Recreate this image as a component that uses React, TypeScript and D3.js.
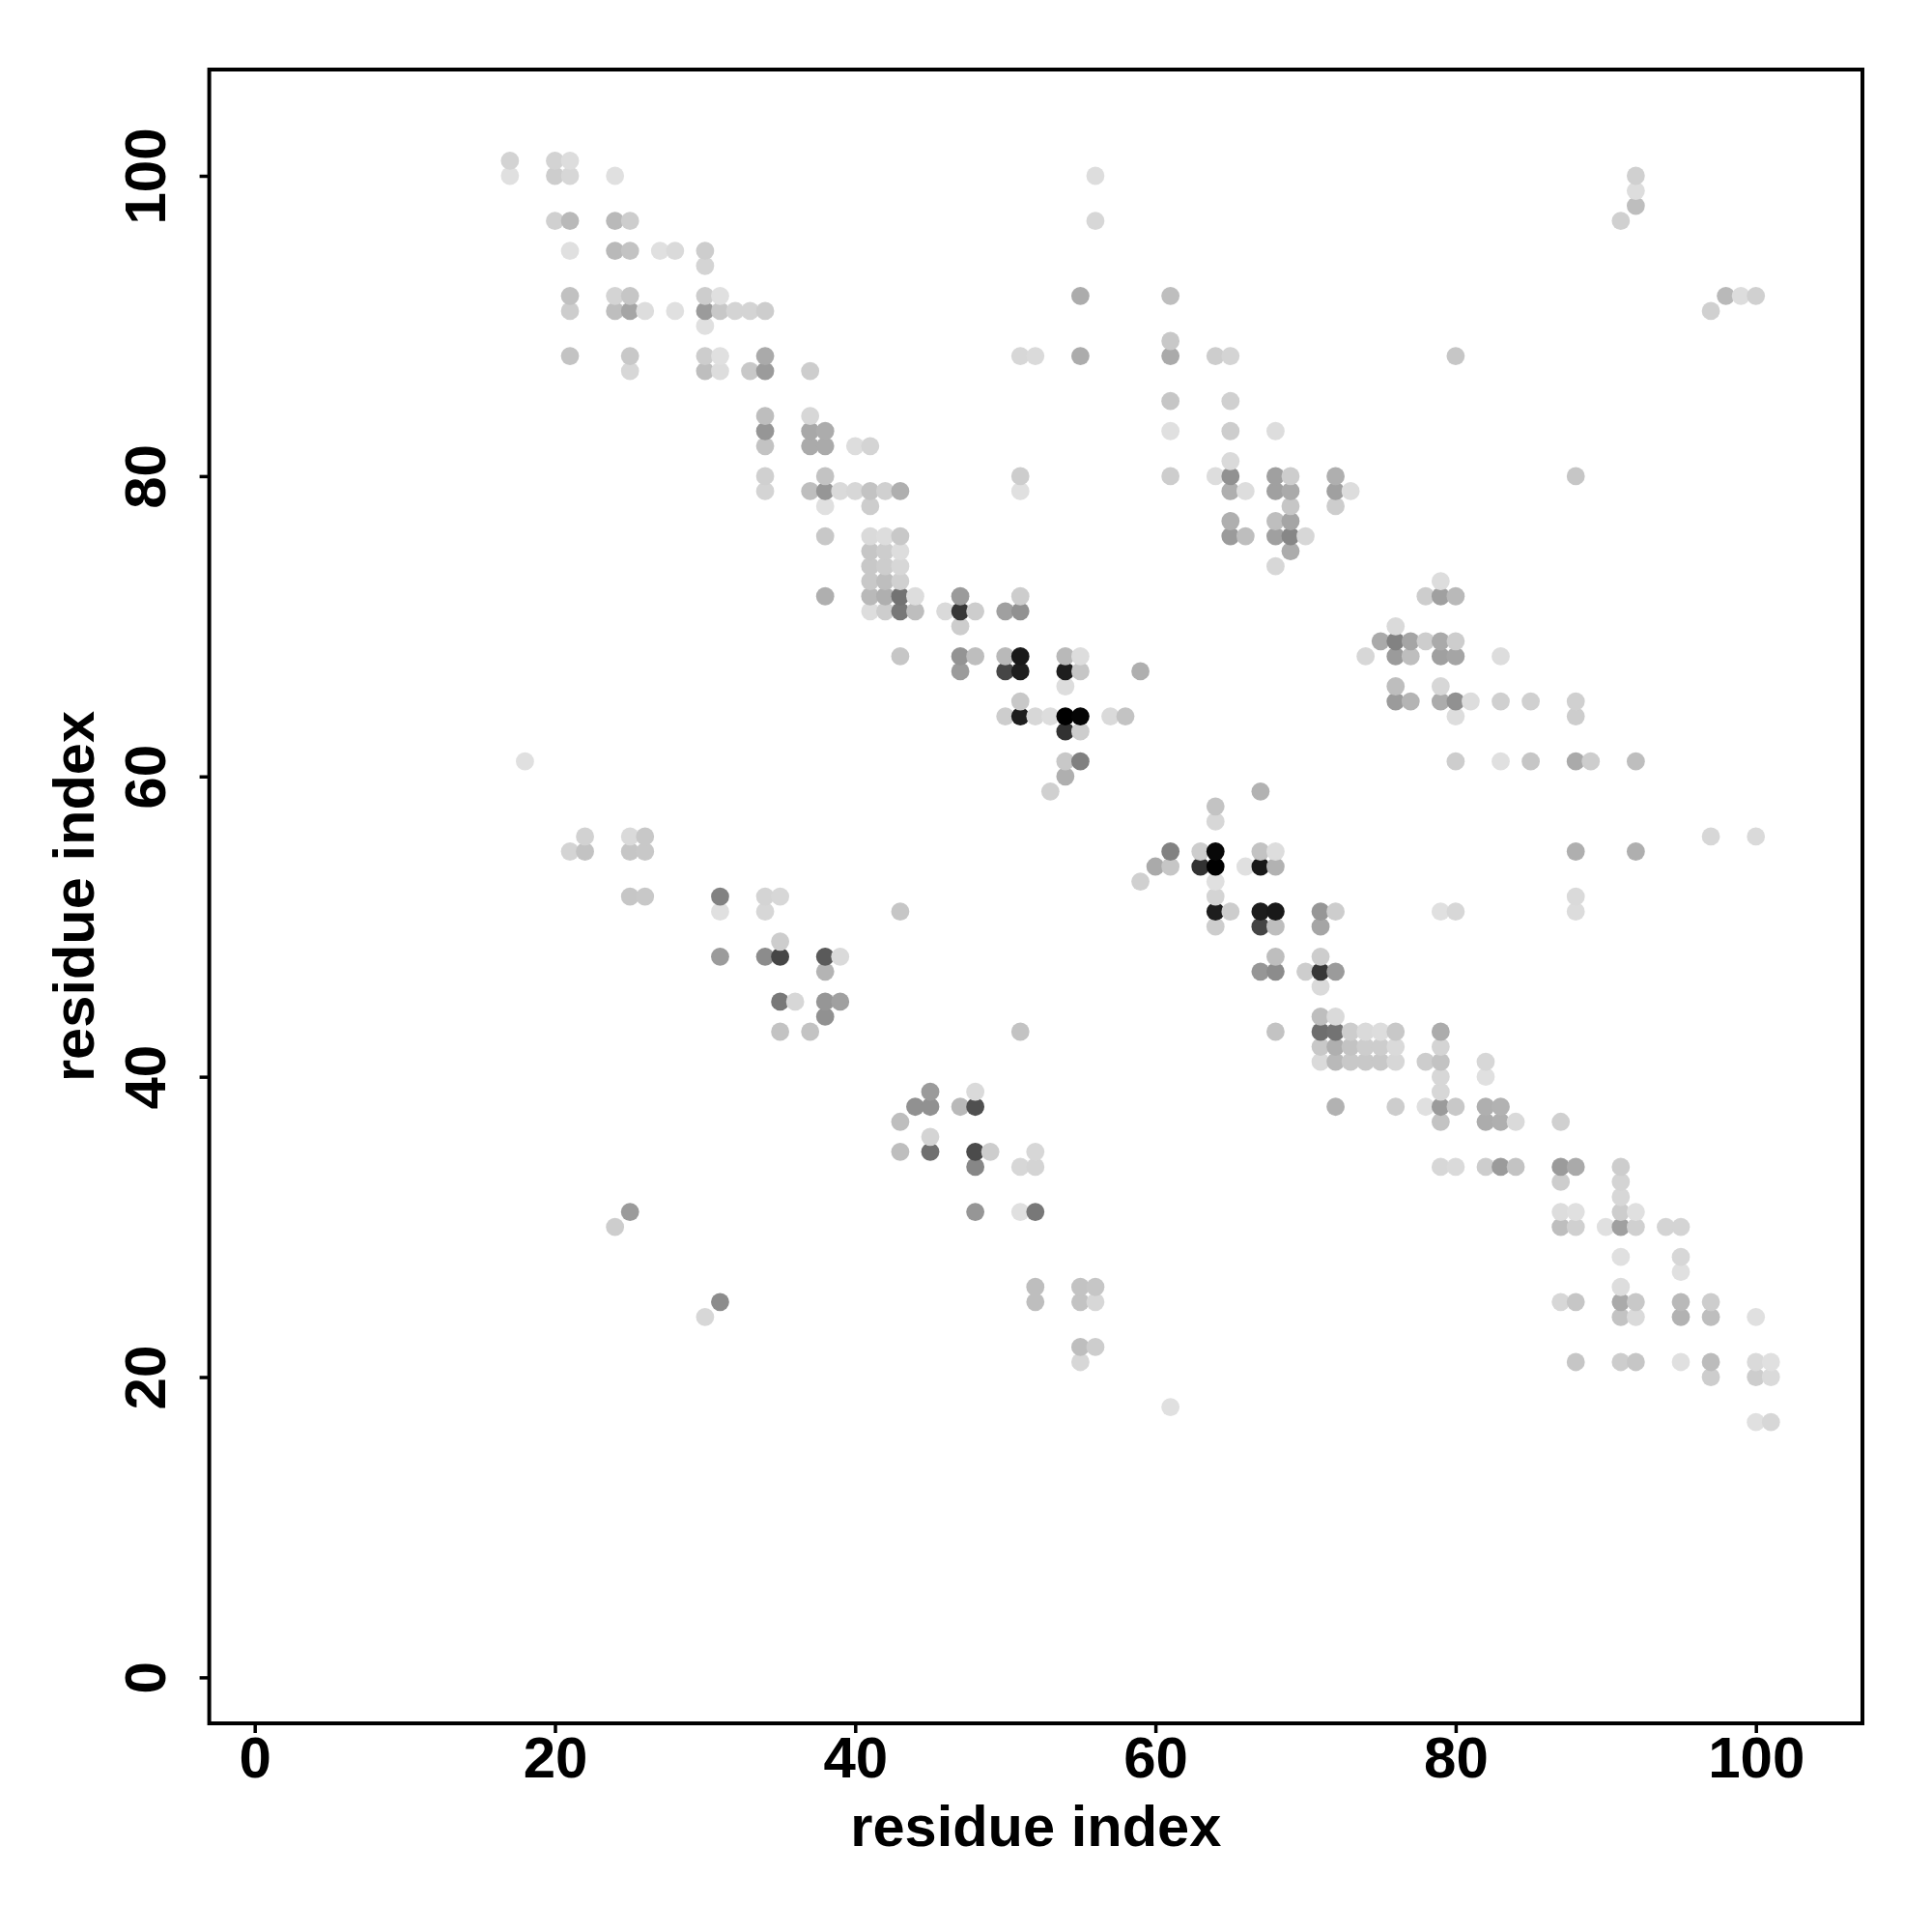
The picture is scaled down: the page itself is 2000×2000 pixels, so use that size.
import { useEffect, useRef } from "react"
import * as d3 from "d3"

const tickValues = [0, 20, 40, 60, 80, 100]
const axisTitle = "residue index"

// each row: residue on the y axis, the residues it contacts, grey level of each dot
const rowY = [
  101, 100, 99, 98, 97, 95, 94, 92, 91, 90, 89, 88, 87, 85, 84, 83, 82, 81, 80, 79, 78, 77, 76, 75, 74, 73, 72, 71, 70,
  69, 68, 67, 66, 65, 64, 63, 61, 60, 59, 58, 57, 56, 55, 54, 53, 52, 51, 50, 49, 48, 47, 46, 45, 44, 43, 42, 41, 40,
  39, 38, 37, 36, 35, 34, 33, 32, 31, 30, 28, 27, 26, 25, 24, 22, 21, 20, 18, 17,
]

const rowX = [
  [17, 20, 21],
  [17, 20, 21, 24, 56, 92],
  [92],
  [92],
  [20, 21, 24, 25, 56, 91],
  [21, 24, 25, 27, 28, 30],
  [30],
  [21, 24, 25, 30, 31, 55, 61, 98, 99, 100],
  [21, 24, 25, 26, 28, 30, 31, 32, 33, 34, 97],
  [30],
  [61],
  [21, 25, 30, 31, 34, 51, 52, 55, 61, 64, 65, 80],
  [25, 30, 31, 33, 34, 37],
  [61, 65],
  [34, 37],
  [34, 37, 38, 61, 65, 68],
  [34, 37, 38, 40, 41],
  [65],
  [34, 38, 51, 61, 64, 65, 68, 69, 72, 88],
  [34, 37, 38, 39, 40, 41, 42, 43, 51, 65, 66, 68, 69, 72, 73],
  [38, 41, 69, 72],
  [65, 68, 69],
  [38, 41, 42, 43, 65, 66, 68, 69, 70],
  [41, 42, 43, 69],
  [41, 42, 43, 68],
  [41, 42, 43, 79],
  [38, 41, 42, 43, 44, 47, 51, 78, 79, 80],
  [41, 42, 43, 44, 46, 47, 48, 50, 51],
  [47, 76],
  [75, 76, 77, 78, 79, 80],
  [43, 47, 48, 50, 51, 54, 55, 74, 76, 77, 79, 80, 83],
  [47, 50, 51, 54, 55, 59],
  [54, 76, 79],
  [51, 76, 77, 79, 80, 81, 83, 85, 88],
  [50, 51, 52, 53, 54, 55, 57, 58, 80, 88],
  [54, 55],
  [18, 54, 55, 80, 83, 85, 88, 89, 92],
  [54],
  [53, 67],
  [64],
  [64],
  [22, 25, 26, 97, 100],
  [21, 22, 25, 26, 61, 63, 64, 67, 68, 88, 92],
  [60, 61, 63, 64, 66, 67, 68],
  [59, 64],
  [25, 26, 31, 34, 35, 64, 88],
  [31, 34, 43, 64, 65, 67, 68, 71, 72, 79, 80, 88],
  [64, 67, 68, 71],
  [35],
  [31, 34, 35, 38, 39, 68, 71],
  [38, 67, 68, 70, 71, 72],
  [71],
  [35, 36, 38, 39],
  [38, 71, 72],
  [35, 37, 51, 68, 71, 72, 73, 74, 75, 76, 79],
  [71, 72, 73, 74, 75, 76, 79],
  [71, 72, 73, 74, 75, 76, 78, 79, 82],
  [79, 82],
  [45, 48, 79],
  [44, 45, 47, 48, 72, 76, 78, 79, 80, 82, 83],
  [43, 79, 82, 83, 84, 87],
  [45],
  [43, 45, 48, 49, 52],
  [48, 51, 52, 79, 80, 82, 83, 84, 87, 88, 91],
  [87, 91],
  [91],
  [25, 48, 51, 52, 87, 88, 91, 92],
  [24, 87, 88, 90, 91, 92, 94, 95],
  [91, 95],
  [95],
  [52, 55, 56, 91],
  [31, 52, 55, 56, 87, 88, 91, 92, 95, 97],
  [30, 91, 92, 95, 97, 100],
  [55, 56],
  [55, 88, 91, 92, 95, 97, 100, 101],
  [97, 100, 101],
  [61],
  [100, 101],
]

const rowGrey = [
  [211, 211, 221],
  [224, 205, 215, 224, 221, 208],
  [221],
  [190],
  [208, 185, 185, 205, 215, 208],
  [224, 185, 195, 224, 218, 205],
  [212],
  [193, 212, 198, 205, 224, 172, 190, 185, 221, 208],
  [205, 190, 165, 221, 224, 155, 200, 212, 212, 205, 208],
  [224],
  [200],
  [195, 200, 205, 224, 170, 215, 218, 172, 170, 205, 212, 198],
  [215, 190, 221, 200, 155, 205],
  [198, 208],
  [190, 215],
  [150, 168, 172, 224, 205, 221],
  [195, 170, 170, 221, 212],
  [218],
  [208, 195, 205, 205, 221, 145, 160, 205, 175, 198],
  [212, 190, 150, 218, 215, 195, 208, 175, 224, 175, 221, 160, 170, 160, 221],
  [224, 205, 198, 205],
  [175, 190, 165],
  [200, 218, 221, 200, 155, 190, 160, 135, 215],
  [198, 205, 221, 172],
  [200, 205, 215, 215],
  [200, 190, 208, 221],
  [175, 185, 175, 115, 221, 155, 205, 205, 160, 185],
  [221, 205, 120, 190, 218, 55, 205, 160, 145],
  [205, 218],
  [170, 130, 165, 205, 170, 205],
  [198, 148, 190, 185, 25, 185, 221, 215, 155, 190, 160, 165, 221],
  [155, 70, 30, 30, 198, 175],
  [221, 190, 215],
  [200, 155, 180, 172, 145, 221, 208, 208, 208],
  [205, 30, 215, 221, 0, 5, 218, 195, 221, 205],
  [50, 205],
  [224, 200, 128, 205, 224, 198, 170, 205, 190],
  [175],
  [208, 178],
  [195],
  [215],
  [210, 218, 200, 215, 218],
  [212, 195, 198, 200, 130, 205, 8, 195, 221, 175, 175],
  [170, 198, 50, 0, 224, 25, 178],
  [208, 224],
  [198, 200, 130, 212, 215, 212, 218],
  [224, 215, 198, 30, 205, 28, 25, 150, 205, 224, 215, 220],
  [205, 68, 190, 165],
  [205],
  [155, 140, 70, 90, 218, 190, 205],
  [180, 150, 140, 205, 55, 155],
  [218],
  [120, 215, 150, 160],
  [145, 190, 218],
  [195, 195, 195, 195, 110, 115, 205, 218, 221, 200, 172],
  [200, 175, 195, 205, 205, 218, 212],
  [218, 185, 200, 200, 200, 215, 205, 195, 215],
  [215, 224],
  [155, 218, 215],
  [145, 145, 185, 80, 178, 205, 224, 155, 200, 175, 178],
  [190, 195, 172, 175, 218, 208],
  [212],
  [190, 112, 75, 205, 215],
  [135, 215, 212, 215, 218, 205, 155, 195, 155, 170, 205],
  [205, 212],
  [215],
  [155, 150, 224, 120, 221, 224, 205, 224],
  [205, 190, 208, 224, 160, 208, 212, 212],
  [224, 215],
  [224],
  [190, 195, 198, 221],
  [140, 190, 195, 215, 215, 198, 170, 200, 185, 205],
  [215, 195, 218, 178, 190, 224],
  [190, 205],
  [215, 198, 205, 198, 224, 188, 218, 224],
  [205, 205, 218],
  [224],
  [224, 215],
]

export default function App() {
  const svgRef = useRef<SVGSVGElement>(null)

  useEffect(() => {
    if (!svgRef.current) return

    const svg = d3.select(svgRef.current)
    svg.selectAll("*").remove()

    const box = { left: 216.6, right: 1928, top: 72, bottom: 1784 }
    const font = "'Liberation Sans', Arial, sans-serif"

    const x = d3.scaleLinear().domain([0, 100]).range([263.7, 1817.7])
    const y = d3.scaleLinear().domain([0, 100]).range([1736.4, 182])

    // later columns sit on top of earlier ones, as in the original plot
    const points = rowY
      .flatMap((ry, i) => rowX[i].map((rx, j) => ({ x: rx, y: ry, grey: rowGrey[i][j] })))
      .sort((a, b) => d3.ascending(a.x, b.x) || d3.ascending(a.y, b.y))

    svg
      .append("g")
      .selectAll("circle")
      .data(points)
      .enter()
      .append("circle")
      .attr("cx", (d) => x(d.x))
      .attr("cy", (d) => y(d.y))
      .attr("r", 9.4)
      .attr("fill", (d) => d3.rgb(d.grey, d.grey, d.grey).formatRgb())

    // Frame
    svg
      .append("rect")
      .attr("x", box.left)
      .attr("y", box.top)
      .attr("width", box.right - box.left)
      .attr("height", box.bottom - box.top)
      .attr("fill", "none")
      .attr("stroke", "#000")
      .attr("stroke-width", 4)

    // Axes
    const xAxis = svg
      .append("g")
      .attr("transform", `translate(0, ${box.bottom})`)
      .call(d3.axisBottom(x).tickValues(tickValues).tickSize(10))
    const yAxis = svg
      .append("g")
      .attr("transform", `translate(${box.left}, 0)`)
      .call(d3.axisLeft(y).tickValues(tickValues).tickSize(10))

    xAxis.select(".domain").remove()
    yAxis.select(".domain").remove()
    svg.selectAll(".tick line").attr("stroke", "#000").attr("stroke-width", 3.5)

    svg
      .selectAll(".tick text")
      .attr("fill", "#000")
      .attr("font-family", font)
      .attr("font-size", 60)
      .attr("font-weight", "bold")

    xAxis.selectAll(".tick text").attr("y", 56).attr("dy", 0).attr("text-anchor", "middle")
    yAxis
      .selectAll(".tick text")
      .attr("x", 0)
      .attr("dy", 0)
      .attr("text-anchor", "middle")
      .attr("transform", "translate(-45.6, 0) rotate(-90)")

    // Axis titles
    svg
      .append("text")
      .attr("x", (box.left + box.right) / 2)
      .attr("y", 1911)
      .attr("text-anchor", "middle")
      .attr("font-family", font)
      .attr("font-size", 59.6)
      .attr("font-weight", "bold")
      .text(axisTitle)

    svg
      .append("text")
      .attr("transform", `translate(97, ${(box.top + box.bottom) / 2}) rotate(-90)`)
      .attr("text-anchor", "middle")
      .attr("font-family", font)
      .attr("font-size", 59.6)
      .attr("font-weight", "bold")
      .text(axisTitle)
  }, [])

  return (
    <svg
      ref={svgRef}
      width={2000}
      height={2000}
      style={{ position: "absolute", left: 0, top: 0, background: "#fff" }}
    />
  )
}
